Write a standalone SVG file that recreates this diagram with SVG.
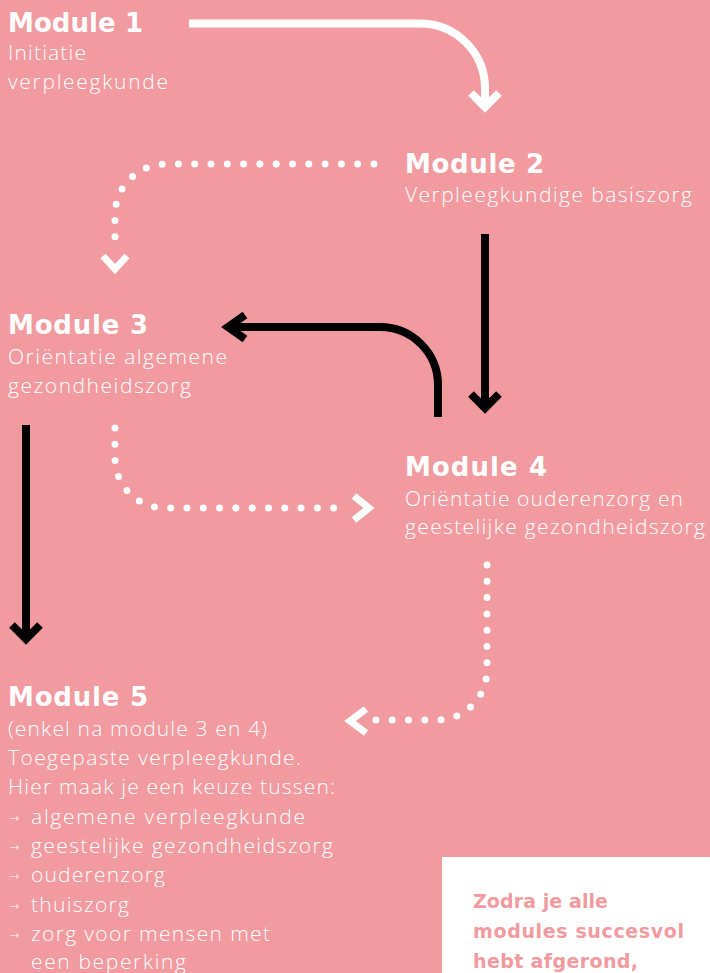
<svg xmlns="http://www.w3.org/2000/svg" width="710" height="973" viewBox="0 0 710 973">
<style>
.t{font-family:"DejaVu Sans","Liberation Sans",sans-serif;font-weight:700;font-size:26px;fill:#fff}
.s{font-family:"Open Sans","Liberation Sans",sans-serif;font-weight:300;font-size:21px;fill:#fff}
.b{font-family:"DejaVu Sans","Liberation Sans",sans-serif;font-weight:300;font-size:12px;fill:#fff}
.n{font-family:"DejaVu Sans","Liberation Sans",sans-serif;font-weight:700;font-size:19px;fill:#F19AA0}
.ws{fill:none;stroke:#fff;stroke-width:8}
.wd{fill:none;stroke:#fff;stroke-width:7;stroke-linecap:round;stroke-dasharray:0 16.3}
.wh{fill:none;stroke:#fff;stroke-width:7;stroke-linejoin:miter}
.bs{fill:none;stroke:#000;stroke-width:8}
.bh{fill:none;stroke:#000;stroke-width:8;stroke-linejoin:miter}
</style>
<rect width="710" height="973" fill="#F19AA0"/>
<g id="connectors">
<path class="ws" d="M189,23.5 H420 A65,65 0 0 1 485,88.5 V106"/>
<polyline class="wh" points="471,93 485,107 499,93" style="stroke-width:8"/>
<path class="wd" d="M374,164 H166 A51,51 0 0 0 115,215 V250"/>
<polyline class="wh" points="103,256 115,269 127,256"/>
<path class="bs" d="M438,417 V385 A58,58 0 0 0 380,327 H228"/>
<polyline class="bh" points="245,315 228,327 245,339"/>
<path class="bs" d="M485,234 V407"/>
<polyline class="bh" points="471,394 485,408 499,394"/>
<path class="bs" d="M26,425 V638"/>
<polyline class="bh" points="12,625 26,639 40,625"/>
<path class="wd" d="M115,428 V458 A50,50 0 0 0 165,508 H347"/>
<polyline class="wh" points="354,496 369,508 354,520"/>
<path class="wd" d="M487,565 V670 A50,50 0 0 1 437,720 H372"/>
<polyline class="wh" points="366,709 350,721 366,733"/>
</g>
<g id="module1">
<text class="t" x="8" y="32" textLength="135">Module 1</text>
<text class="s" x="8" y="60" textLength="78">Initiatie</text>
<text class="s" x="8" y="89" textLength="160">verpleegkunde</text>
</g>
<g id="module2">
<text class="t" x="405" y="173" textLength="139">Module 2</text>
<text class="s" x="405" y="202" textLength="287">Verpleegkundige basiszorg</text>
</g>
<g id="module3">
<text class="t" x="8" y="334" textLength="140">Module 3</text>
<text class="s" x="8" y="364" textLength="219">Oriëntatie algemene</text>
<text class="s" x="8" y="393" textLength="183">gezondheidszorg</text>
</g>
<g id="module4">
<text class="t" x="405" y="476" textLength="142">Module 4</text>
<text class="s" x="405" y="506" textLength="278">Oriëntatie ouderenzorg en</text>
<text class="s" x="405" y="534" textLength="300">geestelijke gezondheidszorg</text>
</g>
<g id="module5">
<text class="t" x="8" y="706" textLength="140">Module 5</text>
<text class="s" x="8" y="736" textLength="259">(enkel na module 3 en 4)</text>
<text class="s" x="8" y="765" textLength="293">Toegepaste verpleegkunde.</text>
<text class="s" x="8" y="794" textLength="327">Hier maak je een keuze tussen:</text>
<text class="b" x="9" y="822">→</text>
<text class="s" x="31" y="824" textLength="274">algemene verpleegkunde</text>
<text class="b" x="9" y="851">→</text>
<text class="s" x="31" y="853" textLength="302">geestelijke gezondheidszorg</text>
<text class="b" x="9" y="880">→</text>
<text class="s" x="31" y="882" textLength="134">ouderenzorg</text>
<text class="b" x="9" y="910">→</text>
<text class="s" x="31" y="912" textLength="98">thuiszorg</text>
<text class="b" x="9" y="939">→</text>
<text class="s" x="31" y="941" textLength="239">zorg voor mensen met</text>
<text class="s" x="31" y="969" textLength="155">een beperking</text>
</g>
<g id="note">
<rect x="442" y="857" width="268" height="116" fill="#fff"/>
<text class="n" x="473" y="908" textLength="135">Zodra je alle</text>
<text class="n" x="473" y="938" textLength="211">modules succesvol</text>
<text class="n" x="473" y="968" textLength="165">hebt afgerond,</text>
</g>
</svg>
